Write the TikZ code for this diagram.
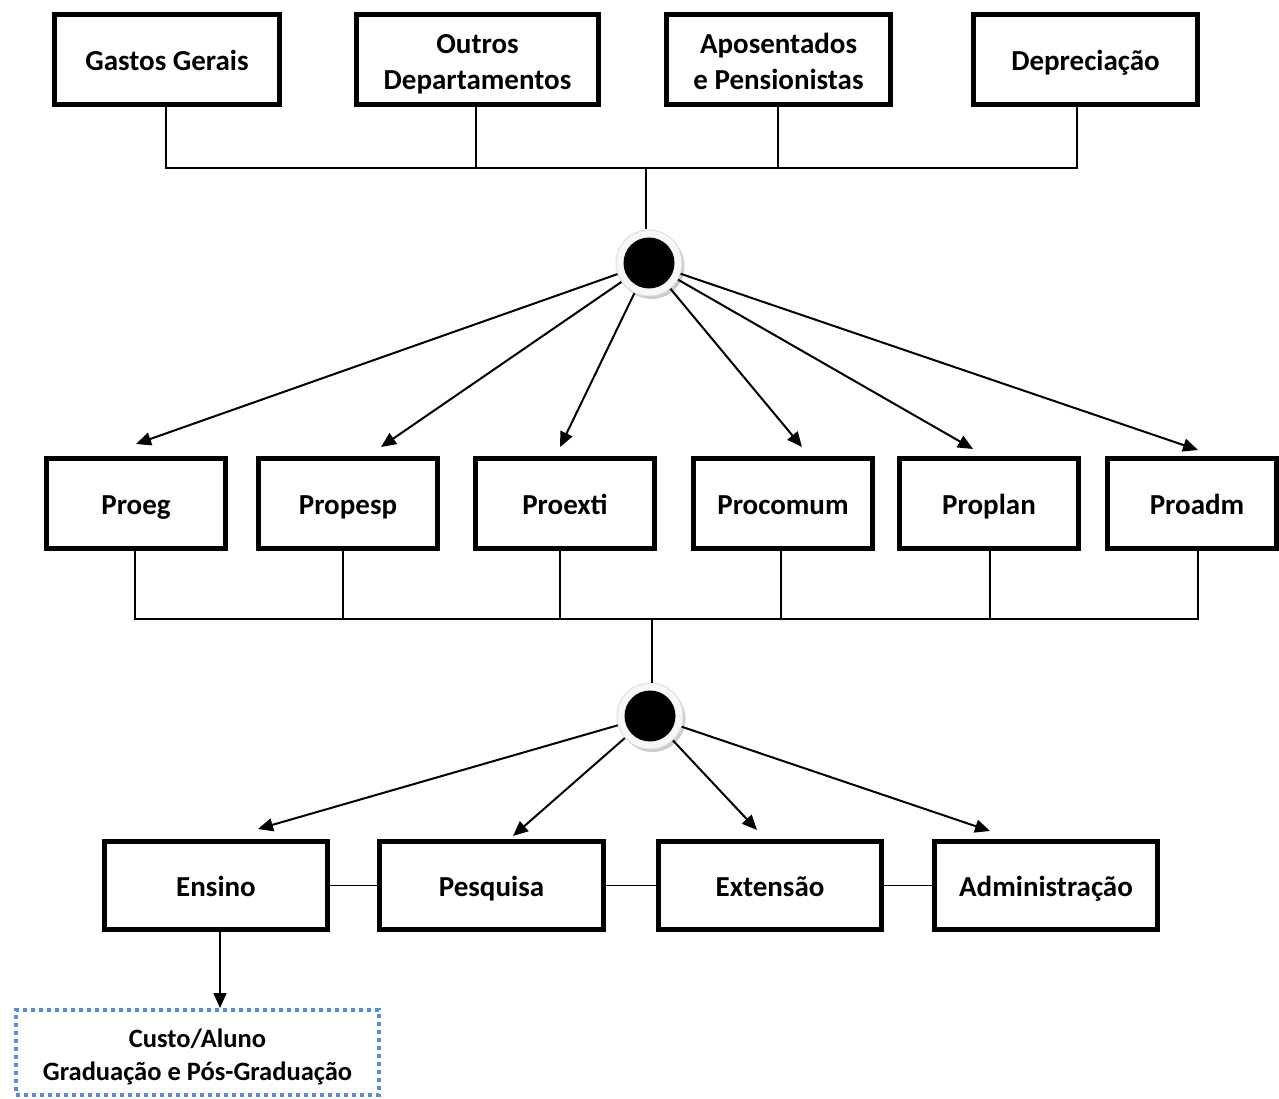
\documentclass[tikz,border=0pt]{standalone}
\usepackage{fontspec}
\setmainfont{Carlito}
\usetikzlibrary{arrows.meta,calc}
\definecolor{dotblue}{RGB}{85,142,213}
\newcommand{\twolines}[3]{\raisebox{#1}[\height][\depth]{\begin{tabular}{@{}c@{}}#2\\#3\end{tabular}}}
\begin{document}
\begin{tikzpicture}[x=1pt,y=-1pt,
  boxbase/.style={draw,line width=5pt,minimum height=90pt,inner sep=0pt,align=center,
    font=\fontsize{29}{36}\selectfont\bfseries},
  box/.style={boxbase,text height=0.77em+18pt,text depth=0.3em},
  mbox/.style={boxbase},
  conn/.style={line width=1.5pt},
  arr/.style={line width=2pt,-{Triangle[length=15pt,width=13pt]}},
  hub/.style={circle,minimum size=66pt,inner sep=0pt,fill=gray!6,draw=gray!25,line width=1pt},
]
\useasboundingbox (0,0) rectangle (1279,1099);
% top row
\node[box,minimum width=225pt] (gg) at (167,59.5) {Gastos Gerais};
\node[mbox,minimum width=242pt] (od) at (477.5,59.5) {\twolines{-5pt}{Outros}{Departamentos}};
\node[mbox,minimum width=224pt] (ap) at (778.5,59.5) {\twolines{-5pt}{Aposentados}{e Pensionistas}};
\node[box,minimum width=224pt] (dp) at (1085.5,59.5) {Depreciação};
% middle row
\node[box,minimum width=179pt] (p1) at (136,503.5) {Proeg};
\node[box,minimum width=179pt] (p2) at (348,503.5) {Propesp};
\node[box,minimum width=179pt] (p3) at (565,503.5) {Proexti};
\node[box,minimum width=179pt] (p4) at (783,503.5) {Procomum};
\node[box,minimum width=179pt] (p5) at (989,503.5) {Proplan};
\node[box,minimum width=169pt] (p6) at (1192,503.5) {\hspace*{10pt}Proadm};
% bottom row
\node[box,minimum width=223pt,minimum height=88pt] (en) at (216,885.5) {Ensino};
\node[box,minimum width=224pt,minimum height=88pt] (pq) at (491.5,885.5) {Pesquisa};
\node[box,minimum width=223pt,minimum height=88pt] (ex) at (770,885.5) {Extensão};
\node[box,minimum width=223pt,minimum height=88pt] (ad) at (1046,885.5) {Administração};
% cost box
\node[draw=dotblue,line width=4pt,dash pattern=on 4pt off 4pt,minimum width=363pt,minimum height=85pt,
  inner sep=0pt,align=center,font=\fontsize{26.5}{33}\selectfont\bfseries] (ca) at (197.5,1052.5)
  {\twolines{-5pt}{Custo/Aluno}{Graduação e Pós-Graduação}};
% hubs
\fill[gray!40] (651.5,266) circle (33);
\node[hub] (h1) at (649,263) {};
\fill[black] (h1.center) circle (25.5);
\fill[gray!40] (652.5,719) circle (33);
\node[hub] (h2) at (650,716) {};
\fill[black] (h2.center) circle (25.5);
% bus 1
\coordinate (b1) at (646,168);
\draw[conn] (gg.south -| 166,0) -- (166,168) -- (1077,168) -- (dp.south -| 1077,0);
\draw[conn] (od.south -| 476,0) -- (476,168);
\draw[conn] (ap.south -| 778,0) -- (778,168);
\draw[conn] (b1) -- (h1.north -| b1);
% arrows hub 1
\coordinate (t1) at (136,444);
\coordinate (t2) at (381,447);
\coordinate (t3) at (560,447);
\coordinate (t4) at (802,447);
\coordinate (t5) at (973,449);
\coordinate (t6) at (1198,450);
\foreach \t in {t1,t2,t3,t4,t5,t6} \draw[arr] (h1) -- (\t);
% bus 2
\coordinate (b2) at (652,619);
\draw[conn] (p1.south -| 135,0) -- (135,619) -- (1198,619) -- (p6.south -| 1198,0);
\draw[conn] (p2.south -| 343,0) -- (343,619);
\draw[conn] (p3.south -| 560,0) -- (560,619);
\draw[conn] (p4.south -| 781,0) -- (781,619);
\draw[conn] (p5.south -| 990,0) -- (990,619);
\draw[conn] (b2) -- (h2.north -| b2);
% arrows hub 2
\coordinate (u1) at (258,829);
\coordinate (u2) at (513,836);
\coordinate (u3) at (757,830);
\coordinate (u4) at (990,831);
\foreach \u in {u1,u2,u3,u4} \draw[arr] (h2) -- (\u);
% bottom links
\draw[conn] (en.east) -- (pq.west);
\draw[conn] (pq.east) -- (ex.west);
\draw[conn] (ex.east) -- (ad.west);
\draw[arr] (en.south -| 220,0) -- (ca.north -| 220,0);
\end{tikzpicture}
\end{document}
